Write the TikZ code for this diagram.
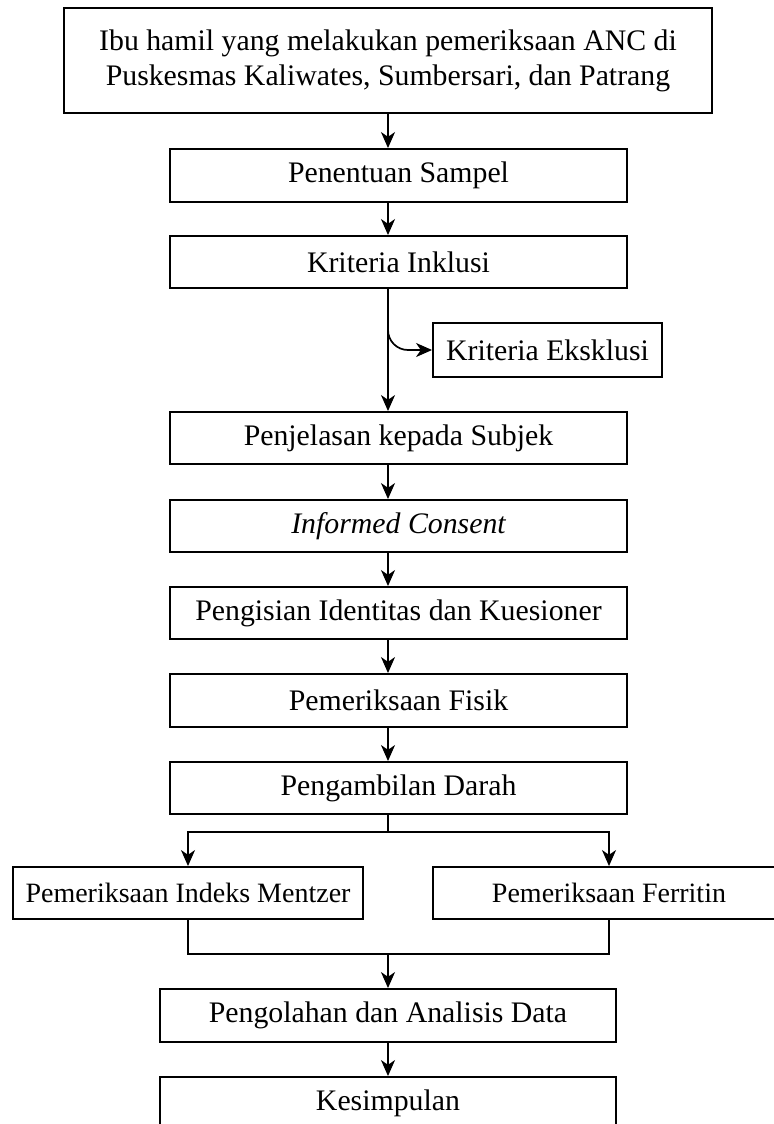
\documentclass[tikz,border=0pt]{standalone}
\usepackage{fontspec}
\setmainfont{Liberation Serif}
\usetikzlibrary{arrows.meta}
\tikzset{
  box/.style={draw, line width=0.95pt, inner sep=0pt, align=center,
    font=\fontsize{14.9}{17.5}\selectfont, minimum height=26.5pt},
  midbox/.style={box, minimum width=228.5pt},
  smallbox/.style={box, font=\fontsize{14}{16.5}\selectfont},
  arr/.style={line width=0.85pt, -{Stealth[length=8pt,width=7pt,inset=2.4pt]}},
  ln/.style={line width=0.85pt}
}
\begin{document}
\begin{tikzpicture}[x=0.5pt,y=-0.5pt]
\useasboundingbox (0,0) rectangle (774,1124);
\fill[white] (0,0) rectangle (774,1124);
\clip (0,0) rectangle (774,1124);

\node[box, minimum width=324pt, minimum height=52.5pt] (top) at (388,60.5)
  {\raisebox{-2pt}{\parbox{320pt}{\centering Ibu hamil yang melakukan pemeriksaan ANC di\\Puskesmas Kaliwates, Sumbersari, dan Patrang}}};
\node[midbox] (pen) at (398.5,175.5) {Penentuan Sampel};
\node[midbox, minimum height=26pt] (ink) at (398.5,262) {Kriteria Inklusi};
\node[box, minimum width=114.5pt, minimum height=27pt] (eks) at (547.5,350) {Kriteria Eksklusi};
\node[midbox, minimum height=26pt] (penj) at (398.5,438) {Penjelasan kepada Subjek};
\node[midbox, minimum height=26pt] (inf) at (398.5,526) {\itshape Informed Consent};
\node[midbox, minimum height=26pt] (isi) at (398.5,613) {Pengisian Identitas dan Kuesioner};
\node[midbox] (fis) at (398.5,700.5) {Pemeriksaan Fisik};
\node[midbox, minimum height=26pt] (darah) at (398.5,788) {Pengambilan Darah};
\node[smallbox, minimum width=175pt, minimum height=26pt] (ment) at (188,893) {Pemeriksaan Indeks Mentzer};
\node[smallbox, minimum width=176pt, minimum height=26pt] (ferr) at (609,893) {Pemeriksaan Ferritin};
\node[box, minimum width=228pt] (olah) at (388,1015.5) {Pengolahan dan Analisis Data};
\node[box, minimum width=228pt] (simp) at (388,1103.5) {Kesimpulan};

\coordinate (br) at (388,328);
\coordinate (sp) at (388,832);
\coordinate (mg) at (388,954);

\draw[arr] (top.south) -- (top.south |- pen.north);
\draw[arr] (pen.south -| top.south) -- (ink.north -| top.south);
\draw[arr] (ink.south -| top.south) -- (penj.north -| top.south);
\draw[arr, rounded corners=10pt] (br) |- (eks.west);
\draw[arr] (penj.south -| top.south) -- (inf.north -| top.south);
\draw[arr] (inf.south -| top.south) -- (isi.north -| top.south);
\draw[arr] (isi.south -| top.south) -- (fis.north -| top.south);
\draw[arr] (fis.south -| top.south) -- (darah.north -| top.south);
\draw[ln] (darah.south -| sp) -- (sp);
\draw[arr] (sp) -| (ment.north);
\draw[arr] (sp) -| (ferr.north);
\draw[ln] (ment.south) |- (mg) -| (ferr.south);
\draw[arr] (mg) -- (olah.north);
\draw[arr] (olah.south) -- (simp.north);
\end{tikzpicture}
\end{document}
